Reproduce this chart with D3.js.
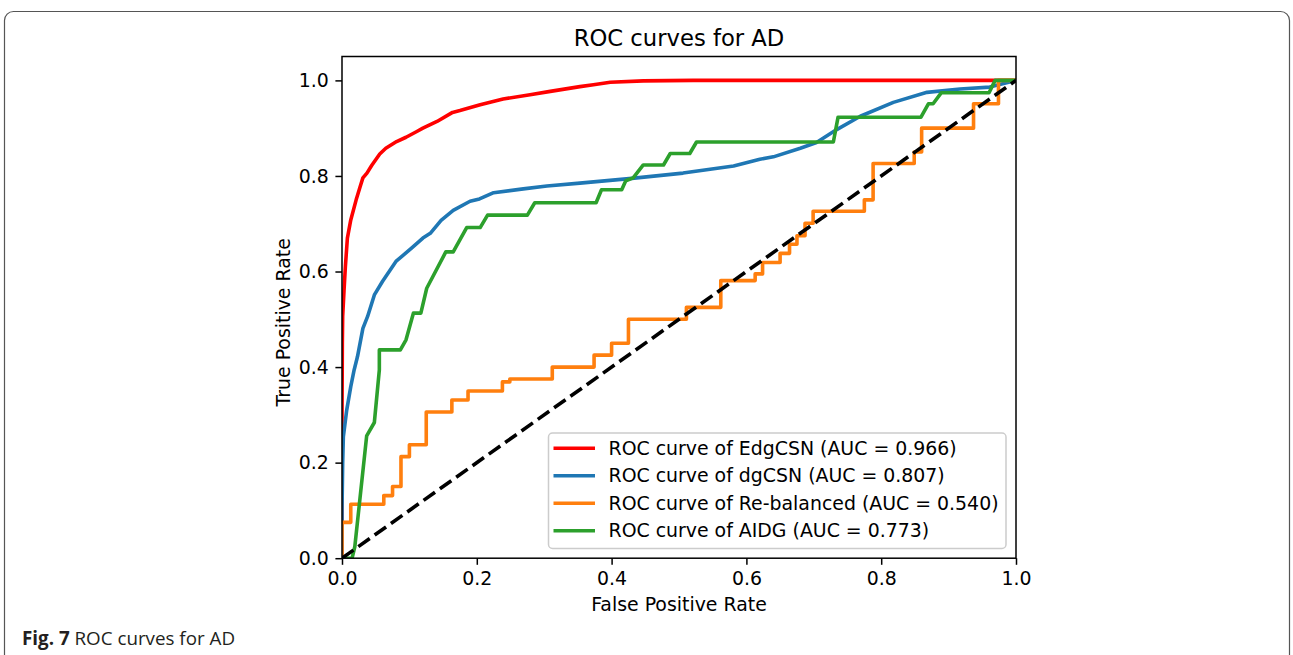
<!DOCTYPE html>
<html>
<head>
<meta charset="utf-8">
<script src="https://cdn.jsdelivr.net/npm/d3@7"></script>
<style>
  html, body { margin: 0; padding: 0; background: #fff; }
  svg { display: block; }
  .mpl { font-family: "DejaVu Sans", sans-serif; fill: #000; }
</style>
</head>
<body>
<svg id="chart" width="1293" height="655"></svg>
<script>
// ROC points [false positive rate, true positive rate] for each method
const edgcsnRoc = [[0,0],[0,0.29],[0.0005,0.45],[0.001,0.506],[0.003,0.56],[0.005,0.61],[0.008,0.67],[0.013,0.708],
  [0.021,0.75],[0.027,0.778],[0.031,0.796],[0.037,0.806],[0.044,0.822],[0.056,0.846],[0.065,0.858],[0.081,0.872],
  [0.095,0.881],[0.111,0.893],[0.12,0.9],[0.141,0.914],[0.164,0.933],[0.175,0.937],[0.205,0.949],[0.239,0.961],
  [0.279,0.97],[0.309,0.977],[0.353,0.987],[0.373,0.991],[0.398,0.996],[0.447,0.999],[0.521,1.0],[1,1]];

const dgcsnRoc = [[0,0],[0,0.1],[0.001,0.2],[0.002,0.254],[0.007,0.31],[0.013,0.359],[0.018,0.394],[0.023,0.422],
  [0.031,0.481],[0.038,0.506],[0.048,0.551],[0.06,0.579],[0.08,0.621],[0.104,0.65],[0.12,0.67],[0.131,0.68],
  [0.147,0.707],[0.165,0.728],[0.19,0.747],[0.204,0.752],[0.225,0.765],[0.269,0.773],[0.304,0.779],[0.353,0.785],
  [0.43,0.795],[0.506,0.806],[0.581,0.821],[0.62,0.835],[0.64,0.84],[0.68,0.858],[0.704,0.87],[0.734,0.897],
  [0.769,0.925],[0.818,0.954],[0.868,0.975],[0.917,0.982],[0.961,0.986],[1,1]];

const rebalancedRoc = [[0,0],[0,0.075],[0.013,0.075],[0.013,0.113],[0.062,0.113],[0.062,0.131],[0.075,0.131],
  [0.075,0.15],[0.0875,0.15],[0.0875,0.2125],[0.1,0.2125],[0.1,0.2375],[0.125,0.2375],[0.125,0.306],[0.163,0.306],
  [0.163,0.331],[0.187,0.331],[0.187,0.35],[0.238,0.35],[0.238,0.369],[0.249,0.369],[0.249,0.375],[0.312,0.375],
  [0.312,0.4],[0.374,0.4],[0.374,0.425],[0.4,0.425],[0.4,0.45],[0.425,0.45],[0.425,0.5],[0.511,0.5],[0.511,0.525],
  [0.562,0.525],[0.562,0.581],[0.613,0.581],[0.613,0.595],[0.624,0.595],[0.624,0.619],[0.65,0.619],[0.65,0.638],
  [0.664,0.638],[0.664,0.657],[0.675,0.657],[0.675,0.675],[0.687,0.675],[0.687,0.701],[0.699,0.701],[0.699,0.726],
  [0.775,0.726],[0.775,0.75],[0.788,0.75],[0.788,0.826],[0.849,0.826],[0.849,0.85],[0.86,0.85],[0.86,0.9],
  [0.937,0.9],[0.937,0.951],[0.974,0.951],[0.974,1.0],[1,1]];

const aidgRoc = [[0,0],[0.015,0],[0.019,0.024],[0.0366,0.256],[0.048,0.284],[0.0554,0.394],[0.0554,0.436],
  [0.0866,0.436],[0.095,0.457],[0.106,0.513],[0.117,0.513],[0.1257,0.565],[0.154,0.641],[0.165,0.641],
  [0.185,0.692],[0.205,0.692],[0.216,0.718],[0.275,0.718],[0.286,0.744],[0.377,0.744],[0.385,0.771],
  [0.415,0.771],[0.421,0.79],[0.432,0.796],[0.447,0.823],[0.477,0.823],[0.487,0.847],[0.516,0.847],
  [0.526,0.871],[0.729,0.871],[0.736,0.923],[0.859,0.923],[0.87,0.951],[0.877,0.951],[0.889,0.974],
  [0.96,0.974],[0.969,1.0],[1,1]];

const chanceLine = [[0,0],[1,1]];

const seriesNames = ["EdgCSN", "dgCSN", "Re-balanced", "AIDG"];
const seriesAuc = [0.966, 0.807, 0.540, 0.773];
const seriesColors = ["#ff0000", "#1f77b4", "#ff7f0e", "#2ca02c"];
const seriesData = [edgcsnRoc, dgcsnRoc, rebalancedRoc, aidgRoc];
const tickValues = [0, 0.2, 0.4, 0.6, 0.8, 1.0];

const svg = d3.select("#chart");

// page frame and figure caption
svg.append("rect")
  .attr("x", 4.5).attr("y", 11.5).attr("width", 1285).attr("height", 720)
  .attr("rx", 9).attr("fill", "none").attr("stroke", "#555").attr("stroke-width", 1.2);

const caption = svg.append("text")
  .attr("x", 22).attr("y", 645)
  .attr("font-family", "'Open Sans', 'Noto Sans', sans-serif")
  .attr("font-size", 18.8).attr("fill", "#231f20");
caption.append("tspan").attr("font-weight", "bold").text("Fig. 7");
caption.append("tspan").text(" ROC curves for AD");

// axes geometry
const plotLeft = 342, plotRight = 1016, plotTop = 56.5, plotBottom = 558.2;
const x = d3.scaleLinear().domain([0, 1]).range([plotLeft, plotRight]);
const y = d3.scaleLinear().domain([0, 1.05]).range([plotBottom, plotTop]);

svg.append("defs").append("clipPath").attr("id", "plotClip")
  .append("rect").attr("x", plotLeft).attr("y", plotTop)
  .attr("width", plotRight - plotLeft).attr("height", plotBottom - plotTop);

const line = d3.line().x(d => x(d[0])).y(d => y(d[1]));
const plot = svg.append("g").attr("clip-path", "url(#plotClip)");

seriesData.forEach((data, i) => {
  plot.append("path")
    .datum(data)
    .attr("d", line)
    .attr("fill", "none")
    .attr("stroke", seriesColors[i])
    .attr("stroke-width", 3.6)
    .attr("stroke-linejoin", "round")
    .attr("stroke-linecap", "butt");
});

plot.append("path")
  .datum(chanceLine)
  .attr("d", line)
  .attr("fill", "none")
  .attr("stroke", "#000")
  .attr("stroke-width", 3.6)
  .attr("stroke-dasharray", "14,6");

// axes
const fmt = d3.format(".1f");
const xAxis = svg.append("g")
  .attr("transform", `translate(0,${plotBottom})`)
  .call(d3.axisBottom(x).tickValues(tickValues).tickFormat(fmt).tickSize(6.6).tickPadding(6.6));
const yAxis = svg.append("g")
  .attr("transform", `translate(${plotLeft},0)`)
  .call(d3.axisLeft(y).tickValues(tickValues).tickFormat(fmt).tickSize(6.6).tickPadding(6.6));

[xAxis, yAxis].forEach(g => {
  g.select(".domain").remove();
  g.selectAll(".tick line").attr("stroke", "#000").attr("stroke-width", 1.5);
  g.selectAll(".tick text")
    .attr("font-family", "DejaVu Sans, sans-serif")
    .attr("font-size", 18.9).attr("fill", "#000");
});

// frame around the plot area
svg.append("rect")
  .attr("x", plotLeft).attr("y", plotTop)
  .attr("width", plotRight - plotLeft).attr("height", plotBottom - plotTop)
  .attr("fill", "none").attr("stroke", "#000").attr("stroke-width", 1.5);

// titles
svg.append("text").attr("class", "mpl")
  .attr("x", (plotLeft + plotRight) / 2).attr("y", 46)
  .attr("text-anchor", "middle").attr("font-size", 22.7)
  .text("ROC curves for AD");

svg.append("text").attr("class", "mpl")
  .attr("x", (plotLeft + plotRight) / 2).attr("y", 611)
  .attr("text-anchor", "middle").attr("font-size", 18.9)
  .text("False Positive Rate");

svg.append("text").attr("class", "mpl")
  .attr("transform", `translate(290,${(plotTop + plotBottom) / 2 + 15}) rotate(-90)`)
  .attr("text-anchor", "middle").attr("font-size", 18.9)
  .text("True Positive Rate");

// legend
const legend = svg.append("g");
legend.append("rect")
  .attr("x", 548.5).attr("y", 433).attr("width", 457.5).attr("height", 115.5)
  .attr("rx", 4).attr("fill", "#fff").attr("fill-opacity", 0.8)
  .attr("stroke", "#ccc").attr("stroke-width", 1.5);

seriesNames.forEach((name, i) => {
  const ry = 448.3 + i * 27.5;
  legend.append("line")
    .attr("x1", 553.5).attr("x2", 595).attr("y1", ry).attr("y2", ry)
    .attr("stroke", seriesColors[i]).attr("stroke-width", 3.6);
  legend.append("text").attr("class", "mpl")
    .attr("x", 608.5).attr("y", ry).attr("dy", "0.35em")
    .attr("font-size", 18.9)
    .text(`ROC curve of ${name} (AUC = ${seriesAuc[i].toFixed(3)})`);
});
</script>
</body>
</html>
